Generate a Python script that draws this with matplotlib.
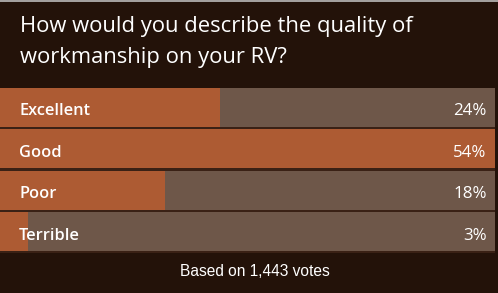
import matplotlib
matplotlib.use("Agg")
import matplotlib.pyplot as plt
from matplotlib.lines import Line2D

categories = ["Excellent", "Good", "Poor", "Terrible"]
percent = [24, 54, 18, 3]
pct_labels = ["24%", "54%", "18%", "3%"]
title = "How would you describe the quality of\nworkmanship on your RV?"
footer = "Based on 1,443 votes"

BG = "#231209"
FILL = "#ad5b33"
TRACK = "#6e5749"
SHADOW = "#3a2115"

W, H = 498, 293
fig = plt.figure(figsize=(W / 100, H / 100), dpi=100, facecolor=BG)

def px(x, y):
    return x / W, 1 - y / H

# top border line
fig.add_artist(Line2D([0, 1], [1 - 0.5 / H, 1 - 0.5 / H], color="#bdbdbd", lw=1.2, transform=fig.transFigure))

# title
lines = title.split("\n")
for ln, base in zip(lines, [32, 63]):
    fig.text(*px(20, base), ln, color="white", fontsize=15.8, family="Open Sans",
             ha="left", va="baseline")

# bars axes
top, pitch = 86.5, 41.5
n = len(categories)
ax = fig.add_axes([0, 1 - (top + n * pitch) / H, 495 / W, n * pitch / H])
ax.set_facecolor(BG)
vmax = max(percent)
ys = list(range(n))
bh = 39 / pitch
ax.barh([y + bh / 2 + 0.035 for y in ys], [vmax] * n, height=0.07, color=SHADOW, left=0)
ax.barh(ys, [vmax] * n, height=bh, color=TRACK)
ax.barh(ys, percent, height=bh, color=FILL)
ax.set_xlim(0, vmax)
ax.set_ylim(n - 0.5, -0.5)
ax.axis("off")

boff = 7.8 / pitch
for y, c, p in zip(ys, categories, pct_labels):
    ax.text(19 / 495 * vmax, y + boff, c, color="white", fontsize=11.8, family="Open Sans",
            fontweight="semibold", ha="left", va="baseline")
    ax.text(486.5 / 495 * vmax, y + boff, p, color="white", fontsize=12.2, family="Open Sans",
            ha="right", va="baseline")

fig.text(*px(254.5, 271.5), footer, color="white", fontsize=11.2, family="Liberation Sans",
         ha="center", va="center")

fig.savefig("out.png", dpi=100, facecolor=BG)
